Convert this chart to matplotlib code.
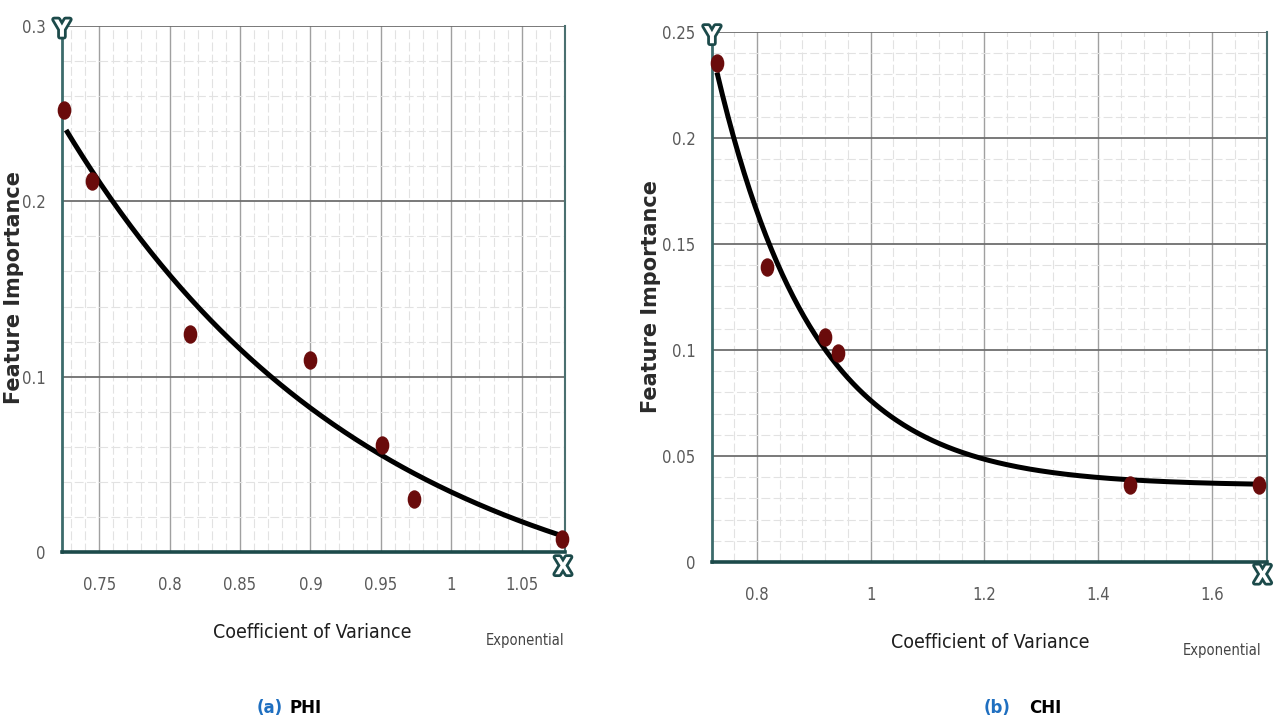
import numpy as np
import matplotlib
matplotlib.use("Agg")
import matplotlib.pyplot as plt
from matplotlib.ticker import MultipleLocator, FixedLocator
from matplotlib.path import Path
from matplotlib.transforms import Affine2D
import matplotlib.patheffects as pe

# ---------------- data ----------------
phi_cv = [0.725, 0.745, 0.8143, 0.900, 0.9507, 0.9736, 1.0786]
phi_imp = [0.252, 0.2117, 0.1244, 0.1095, 0.061, 0.030, 0.0074]

chi_cv = [0.7297, 0.8176, 0.9196, 0.9424, 1.456, 1.683]
chi_imp = [0.2354, 0.139, 0.106, 0.0986, 0.0363, 0.0363]

phi_xticks = [0.75, 0.8, 0.85, 0.9, 0.95, 1, 1.05]
phi_xticklabels = ["0.75", "0.8", "0.85", "0.9", "0.95", "1", "1.05"]
phi_yticks = [0, 0.1, 0.2, 0.3]
phi_yticklabels = ["0", "0.1", "0.2", "0.3"]

chi_xticks = [0.8, 1.0, 1.2, 1.4, 1.6]
chi_xticklabels = ["0.8", "1", "1.2", "1.4", "1.6"]
chi_yticks = [0, 0.05, 0.1, 0.15, 0.2, 0.25]
chi_yticklabels = ["0", "0.05", "0.1", "0.15", "0.2", "0.25"]

x_title = "Coefficient of Variance"
y_title = "Feature Importance"
fit_name = "Exponential"
captions = [("(a)", "PHI"), ("(b)", "CHI")]


def exp_fit(x, y):
    """least-squares fit y = a*exp(b*x) + c (grid over b, linear LS for a, c)"""
    x = np.asarray(x, float)
    y = np.asarray(y, float)
    best = None
    for b in np.linspace(-20, -0.2, 4000):
        A = np.column_stack([np.exp(b * x), np.ones_like(x)])
        coef, *_ = np.linalg.lstsq(A, y, rcond=None)
        r = np.sum((A @ coef - y) ** 2)
        if best is None or r < best[0]:
            best = (r, coef[0], b, coef[1])
    _, a, b, c = best
    return lambda t: a * np.exp(b * t) + c


W, H = 1275, 724
fig = plt.figure(figsize=(W / 100, H / 100), dpi=100)
fig.patch.set_facecolor("white")

teal = "#1c4a4a"
grid_major = "#6e6e6e"
grid_v = "#a0a0a0"
grid_minor = "#e2e2e2"
dot_col = "#6a0b0b"
tick_col = "#5a5a5a"

ell = Path.unit_circle().transformed(Affine2D().scale(0.72, 1.0))

cond = dict(family="DejaVu Sans", fontstretch="condensed")
tick_font = dict(fontsize=12, color=tick_col, **cond)


def px_axes(l, r, t, b):
    return fig.add_axes([l / W, 1 - b / H, (r - l) / W, (b - t) / H])


def style_axes(ax, xlim, ylim, xt, xtl, yt, ytl, xminor, yminor):
    ax.set_xlim(*xlim)
    ax.set_ylim(*ylim)
    ax.xaxis.set_major_locator(FixedLocator(xt))
    ax.yaxis.set_major_locator(FixedLocator(yt))
    ax.xaxis.set_minor_locator(MultipleLocator(xminor))
    ax.yaxis.set_minor_locator(MultipleLocator(yminor))
    ax.set_xticklabels(xtl, **tick_font)
    ax.set_yticklabels(ytl, **tick_font)
    ax.tick_params(which="both", length=0)
    ax.tick_params(axis="x", pad=17)
    ax.tick_params(axis="y", pad=12)
    ax.grid(which="minor", color=grid_minor, lw=0.8, ls=(0, (8, 3)))
    ax.grid(which="major", axis="x", color=grid_v, lw=1.0)
    ax.grid(which="major", axis="y", color=grid_major, lw=1.3)
    ax.set_axisbelow(True)
    ax.spines["top"].set_visible(False)
    ax.spines["left"].set_color("#3c6b6b")
    ax.spines["left"].set_linewidth(2.0)
    ax.spines["bottom"].set_color(teal)
    ax.spines["bottom"].set_linewidth(2.6)
    ax.spines["right"].set_color("#4a7070")
    ax.spines["right"].set_linewidth(1.5)


def marker_letter(ax, xf, yf, s):
    ax.text(xf, yf, s, transform=ax.transAxes, ha="center", va="center",
            fontsize=17, fontweight="bold", color="white", family="DejaVu Sans",
            fontstretch="condensed",
            path_effects=[pe.withStroke(linewidth=4, foreground=teal)],
            clip_on=False, zorder=10)


# ---------------- left panel (PHI) ----------------
ax1 = px_axes(62, 565, 26, 552)
style_axes(ax1, (0.7236, 1.0807), (0, 0.3), phi_xticks, phi_xticklabels,
           phi_yticks, phi_yticklabels, 0.01, 0.02)
f1 = exp_fit(phi_cv, phi_imp)
xs1 = np.linspace(min(phi_cv) + 0.0015, max(phi_cv), 300)
ax1.plot(xs1, f1(xs1), color="black", lw=3.6, zorder=3, solid_capstyle="butt")
ax1.scatter(phi_cv, phi_imp, marker=ell, s=150, color=dot_col, zorder=4, clip_on=False)
marker_letter(ax1, 0.0, 0.993, "Y")
marker_letter(ax1, 0.996, -0.029, "X")

# ---------------- right panel (CHI) ----------------
ax2 = px_axes(712, 1267, 32, 562)
style_axes(ax2, (0.7209, 1.6967), (0, 0.25), chi_xticks, chi_xticklabels,
           chi_yticks, chi_yticklabels, 0.04, 0.01)
f2 = exp_fit(chi_cv, chi_imp)
xs2 = np.linspace(min(chi_cv), max(chi_cv), 300)
ax2.plot(xs2, f2(xs2), color="black", lw=3.6, zorder=3, solid_capstyle="butt")
ax2.scatter(chi_cv, chi_imp, marker=ell, s=150, color=dot_col, zorder=4, clip_on=False)
marker_letter(ax2, 0.0, 0.992, "Y")
marker_letter(ax2, 0.992, -0.026, "X")

# ---------------- labels ----------------
lab_font = dict(fontsize=14, color="#1e1e1e", **cond)
fig.text(312 / W, 1 - 633 / H, x_title, ha="center", va="center", **lab_font)
fig.text(990 / W, 1 - 643 / H, x_title, ha="center", va="center", **lab_font)
fig.text(525 / W, 1 - 640 / H, fit_name, ha="center", va="center",
         fontsize=10.5, color="#444444", **cond)
fig.text(1222 / W, 1 - 651 / H, fit_name, ha="center", va="center",
         fontsize=10.5, color="#444444", **cond)

ylab_font = dict(family="DejaVu Sans", fontsize=15, fontweight="bold", color="#2a2a2a",
                 rotation=90, ha="center", va="center")
fig.text(14 / W, 1 - 288 / H, y_title, **ylab_font)
fig.text(651 / W, 1 - 296 / H, y_title, **ylab_font)

# captions
for (tag, name), xc in zip(captions, [(270, 306), (997, 1045)]):
    fig.text(xc[0] / W, 1 - 708 / H, tag, ha="center", va="center", fontsize=12,
             fontweight="bold", color="#1f6fc0", family="DejaVu Sans")
    fig.text(xc[1] / W, 1 - 708 / H, name, ha="center", va="center", fontsize=12,
             fontweight="bold", color="black", family="DejaVu Sans")

fig.savefig("out.png", dpi=100, facecolor="white")
